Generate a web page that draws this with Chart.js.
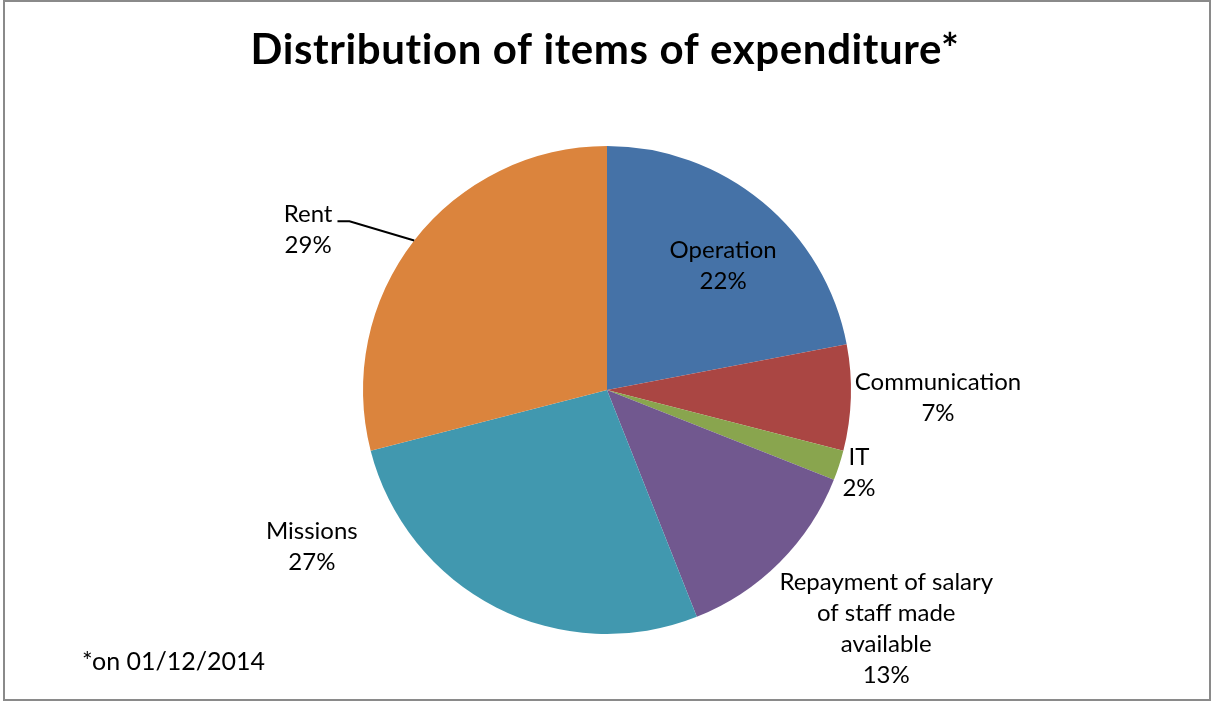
<!DOCTYPE html>
<html>
<head>
<meta charset="utf-8">
<script src="https://cdn.jsdelivr.net/npm/chart.js"></script>
<style>
  html, body { margin: 0; padding: 0; background: #fff; }
  #wrap { width: 1212px; height: 702px; position: relative; }
</style>
</head>
<body>
<div id="wrap"><canvas id="expenseChart" width="1212" height="702"></canvas></div>
<script>
// expenditure split, clockwise from 12 o'clock
const categories = ['Operation', 'Communication', 'IT', 'Repayment of salary of staff made available', 'Missions', 'Rent'];
const labelLines = [
  ['Operation'],
  ['Communication'],
  ['IT'],
  ['Repayment of salary', 'of staff made', 'available'],
  ['Missions'],
  ['Rent']
];
const shares = [22, 7, 2, 13, 27, 29];
const sliceColors = ['#4572A7', '#AA4643', '#89A54E', '#71588F', '#4198AF', '#DB843D'];

const titleText = 'Distribution of items of expenditure*';
const footnoteText = '*on 01/12/2014';

// label placement: angular shift (deg) from slice middle, distance in radii
const labelPlace = [
  { shift: 3.4, dist: 0.698 },
  { shift: -0.4, dist: 1.357 },
  { shift: 0.2, dist: 1.087 },
  { shift: -4.5, dist: 1.505 },
  { shift: 35.0, dist: 1.370 },
  { shift: -9.6, dist: 1.390 }
];
const leaderFor = 'Rent';

const LABEL_FONT = '24px Lato, "Open Sans", sans-serif';
const LINE_H = 31;

const textPlugin = {
  id: 'excelText',
  afterDraw(chart) {
    const ctx = chart.ctx;
    ctx.save();

    // outer frame
    ctx.strokeStyle = '#8a8a8a';
    ctx.lineWidth = 2;
    ctx.strokeRect(4, 1, 1206, 699);

    // title (small letter spacing keeps "ti" from ligating)
    ctx.fillStyle = '#000';
    ctx.textAlign = 'center';
    ctx.textBaseline = 'middle';
    ctx.font = 'bold 42px Lato, "Open Sans", sans-serif';
    ctx.letterSpacing = '0.6px';
    ctx.fillText(titleText, 605, 50);
    ctx.letterSpacing = '0px';

    // footnote
    ctx.textAlign = 'left';
    ctx.font = '25px Lato, "Open Sans", sans-serif';
    ctx.fillText(footnoteText, 82, 662);

    // data labels
    const meta = chart.getDatasetMeta(0);
    ctx.font = LABEL_FONT;
    ctx.textAlign = 'center';
    meta.data.forEach((arc, i) => {
      const mid = (arc.startAngle + arc.endAngle) / 2;
      const a = mid + labelPlace[i].shift * Math.PI / 180;
      const r = arc.outerRadius * labelPlace[i].dist;
      const cx = arc.x + Math.cos(a) * r;
      const cy = arc.y + Math.sin(a) * r;
      const lines = labelLines[i].concat([shares[i] + '%']);
      const top = cy - (lines.length - 1) * LINE_H / 2;
      lines.forEach((t, k) => ctx.fillText(t, cx, top + k * LINE_H));

      if (categories[i] === leaderFor) {
        const w = ctx.measureText(labelLines[i][0]).width;
        const sx = cx + w / 2 + 5;
        const sy = top + 7;
        const ex = arc.x + Math.cos(mid) * arc.outerRadius;
        const ey = arc.y + Math.sin(mid) * arc.outerRadius;
        ctx.beginPath();
        ctx.strokeStyle = '#000';
        ctx.lineWidth = 2;
        ctx.moveTo(sx, sy);
        ctx.lineTo(sx + 12, sy);
        ctx.lineTo(ex, ey);
        ctx.stroke();
      }
    });
    ctx.restore();
  }
};

new Chart(document.getElementById('expenseChart'), {
  type: 'pie',
  data: {
    labels: categories,
    datasets: [{
      data: shares,
      backgroundColor: sliceColors,
      borderWidth: 0,
      hoverOffset: 0
    }]
  },
  options: {
    responsive: false,
    animation: false,
    events: [],
    layout: { padding: { left: 363, right: 361, top: 146, bottom: 68 } },
    plugins: {
      legend: { display: false },
      tooltip: { enabled: false },
      title: { display: false }
    }
  },
  plugins: [textPlugin]
});
</script>
</body>
</html>
